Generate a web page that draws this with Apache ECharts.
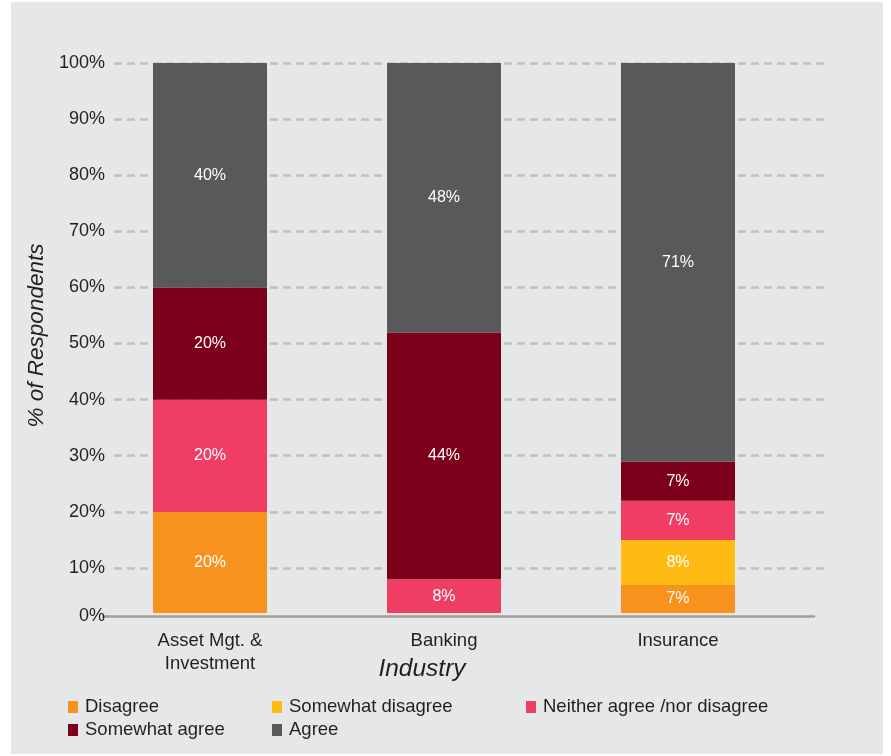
<!DOCTYPE html>
<html>
<head>
<meta charset="utf-8">
<script src="https://cdn.jsdelivr.net/npm/echarts@6/dist/echarts.min.js"></script>
<style>
  html, body { margin: 0; padding: 0; background: #ffffff; }
  #chart { width: 891px; height: 756px; }
</style>
</head>
<body>
<div id="chart"></div>
<script>
// Survey responses by industry (percent of respondents)
const categories = ['Asset Mgt. &\nInvestment', 'Banking', 'Insurance'];
const disagree          = [20, 0, 7];
const somewhatDisagree  = [0, 0, 8];
const neither           = [20, 8, 7];
const somewhatAgree     = [20, 44, 7];
const agree             = [40, 48, 71];
const seriesNames = ['Disagree', 'Somewhat disagree', 'Neither agree /nor disagree', 'Somewhat agree', 'Agree'];
const seriesValues = [disagree, somewhatDisagree, neither, somewhatAgree, agree];
const seriesColors = ['#f7921e', '#fdbb13', '#ef3d63', '#7c0019', '#58595b'];
const yTicks = { min: 0, max: 100, step: 10 };

const FONT = '"Liberation Sans", Arial, Helvetica, sans-serif';
const TEXT = '#231f20';

const chart = echarts.init(document.getElementById('chart'), null, { renderer: 'canvas' });

const series = seriesNames.map((name, i) => ({
  name,
  type: 'bar',
  stack: 'total',
  xAxisIndex: 0,
  yAxisIndex: 0,
  barWidth: 114,
  itemStyle: { color: seriesColors[i] },
  label: {
    show: true,
    position: 'inside',
    color: '#ffffff',
    fontFamily: FONT,
    fontSize: 16,
    formatter: p => (p.value ? p.value + '%' : '')
  },
  emphasis: { disabled: true },
  data: seriesValues[i]
}));

const legendBase = {
  orient: 'vertical',
  top: 696,
  padding: 0,
  itemWidth: 10,
  itemHeight: 12,
  itemGap: 1,
  icon: 'rect',
  selectedMode: false,
  textStyle: { fontFamily: FONT, fontSize: 18.5, color: TEXT, lineHeight: 22, padding: [0, 0, 0, 2] }
};

chart.setOption({
  backgroundColor: '#ffffff',
  animation: false,
  graphic: [
    { type: 'rect', z: -10, shape: { x: 11, y: 2, width: 872, height: 752 }, style: { fill: '#e6e7e9' } },
    { type: 'text', z: 10, x: 422, y: 669,
      style: { text: 'Industry', fontFamily: FONT, fontSize: 24.5, fontStyle: 'italic', fill: TEXT,
               align: 'center', verticalAlign: 'middle' } }
  ],
  legend: [
    Object.assign({}, legendBase, { left: 68, data: ['Disagree', 'Somewhat agree'] }),
    Object.assign({}, legendBase, { left: 272, data: ['Somewhat disagree', 'Agree'] }),
    Object.assign({}, legendBase, { left: 526, data: ['Neither agree /nor disagree'] })
  ],
  grid: [
    // bars
    { left: 93, right: 96, top: 63, bottom: 143 },
    // value scale with dashed gridlines
    { left: 114, right: 63, top: 63, bottom: 132 },
    // baseline
    { left: 103, right: 77, top: 63, bottom: 140 }
  ],
  xAxis: [
    {
      gridIndex: 0, type: 'category', data: categories,
      axisLine: { show: false }, axisTick: { show: false },
      axisLabel: { margin: 16, fontFamily: FONT, fontSize: 18.5, color: TEXT, lineHeight: 23 }
    },
    { gridIndex: 1, type: 'value', min: 0, max: 1, show: false },
    {
      gridIndex: 2, type: 'value', min: 0, max: 1,
      axisLine: { show: true, lineStyle: { color: '#a69d95', width: 2.5 } },
      axisTick: { show: false }, axisLabel: { show: false }, splitLine: { show: false }
    }
  ],
  yAxis: [
    { gridIndex: 0, type: 'value', min: 2, max: yTicks.max, show: false },
    {
      gridIndex: 1, type: 'value', min: yTicks.min, max: yTicks.max, interval: yTicks.step,
      name: '% of Respondents', nameLocation: 'middle', nameGap: 64, nameRotate: 90,
      nameTextStyle: { fontFamily: FONT, fontSize: 22.5, fontStyle: 'italic', color: TEXT, padding: [0, 0, 0, 16] },
      axisLine: { show: false }, axisTick: { show: false },
      axisLabel: {
        margin: 9, fontFamily: FONT, fontSize: 18, color: TEXT,
        formatter: v => (v === 0 ? '{zero|0%}' : v + '%'),
        rich: { zero: { fontFamily: FONT, fontSize: 18, color: TEXT, padding: [0, 0, 16, 0] } }
      },
      splitLine: { show: true, showMinLine: false,
                   lineStyle: { color: '#c1c1c1', width: 2.5, type: [8, 5] } }
    },
    { gridIndex: 2, type: 'value', min: 0, max: 1, show: false }
  ],
  series
});
</script>
</body>
</html>
